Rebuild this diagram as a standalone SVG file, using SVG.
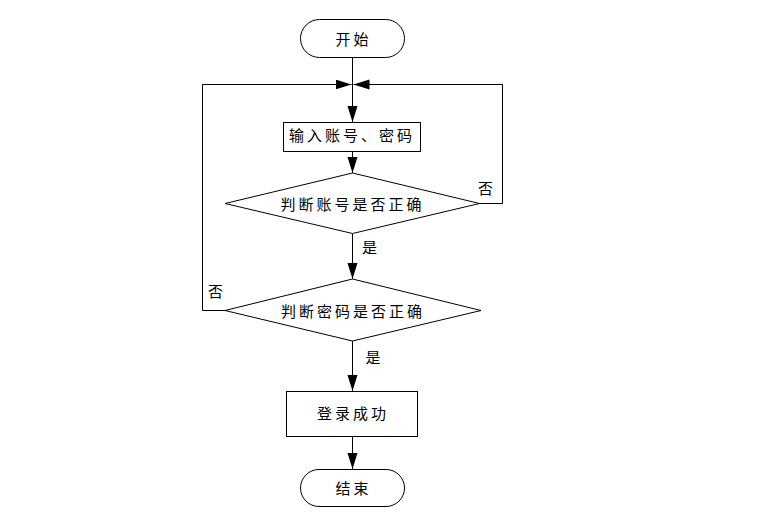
<svg xmlns="http://www.w3.org/2000/svg" width="767" height="517" viewBox="0 0 767 517">
<style>
.s{fill:#fff;stroke:#000;stroke-width:1}
.c{fill:none;stroke:#000;stroke-width:1}
.t{font-family:"Noto Sans CJK SC","Noto Sans",sans-serif;font-size:15px;fill:#000;text-anchor:middle;dominant-baseline:central;letter-spacing:3px}
.l{font-family:"Noto Sans CJK SC","Noto Sans",sans-serif;font-size:15px;fill:#000;text-anchor:middle;dominant-baseline:central}
</style>
<defs>
<marker id="a" markerUnits="userSpaceOnUse" markerWidth="17" markerHeight="11" refX="16" refY="5" orient="auto">
<path d="M0,0 L16,5 L0,10 z" fill="#000"/>
</marker>
</defs>
<rect width="767" height="517" fill="#fff"/>
<g id="connectors">
<path class="c" d="M352.5,58 V122" marker-end="url(#a)"/>
<path class="c" d="M352.5,152 V173" marker-end="url(#a)"/>
<path class="c" d="M352.5,233 V279" marker-end="url(#a)"/>
<path class="c" d="M352.5,341 V391" marker-end="url(#a)"/>
<path class="c" d="M352.5,437 V469" marker-end="url(#a)"/>
<path class="c" d="M479,203.5 H502.5 V84.5 H353.5" marker-end="url(#a)"/>
<path class="c" d="M225,310.5 H202.5 V84.5 H351.5" marker-end="url(#a)"/>
<text class="l" x="485.5" y="187.5">否</text>
<text class="l" x="215.5" y="290">否</text>
<text class="l" x="369.5" y="246.5">是</text>
<text class="l" x="373" y="356.5">是</text>
</g>
<g id="start">
<rect class="s" x="300.5" y="19.5" width="104" height="38" rx="19" ry="19"/>
<text class="t" x="353.5" y="38.5">开始</text>
</g>
<g id="input">
<rect class="s" x="283.5" y="122.5" width="137" height="29"/>
<text class="t" x="352" y="134.5">输入账号、密码</text>
</g>
<g id="checkAccount">
<polygon class="s" points="352.5,173 479.5,203.5 352.5,233.5 225,203.5"/>
<text class="t" x="352.5" y="203">判断账号是否正确</text>
</g>
<g id="checkPassword">
<polygon class="s" points="352.5,279 481,310.5 352.5,341 225,310.5"/>
<text class="t" x="353" y="310">判断密码是否正确</text>
</g>
<g id="success">
<rect class="s" x="286.5" y="391.5" width="131" height="45"/>
<text class="t" x="353" y="412.5">登录成功</text>
</g>
<g id="end">
<rect class="s" x="300.5" y="469.5" width="104" height="37" rx="18.5" ry="18.5"/>
<text class="t" x="353.5" y="487.5">结束</text>
</g>
</svg>
